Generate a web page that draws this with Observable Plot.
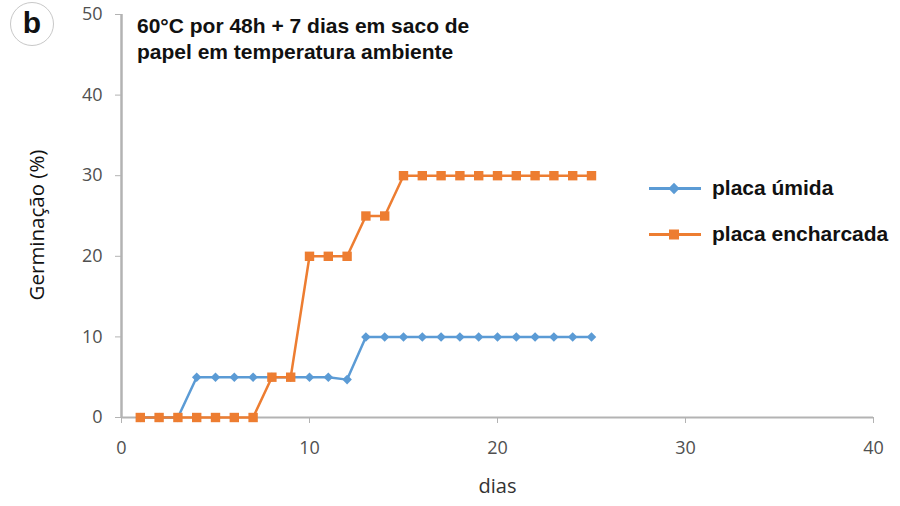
<!DOCTYPE html>
<html>
<head>
<meta charset="utf-8">
<script src="https://cdn.jsdelivr.net/npm/d3@7"></script>
<script src="https://cdn.jsdelivr.net/npm/@observablehq/plot@0.6"></script>
<style>
  body { margin: 0; background: #fff; }
  #wrap { position: relative; width: 900px; height: 506px; overflow: hidden; }
  .ov { position: absolute; font-family: "Liberation Sans", Arial, sans-serif; color: #111; }
  #badge { left: 10px; top: 2px; width: 42px; height: 42px; border: 1.5px solid #c8c8c8; border-radius: 50%;
           font-weight: bold; font-size: 30px; line-height: 40px; text-align: center; }
  #title { left: 137px; top: 13px; font-weight: bold; font-size: 21px; line-height: 26px; }
  #legend { left: 648px; top: 165px; font-weight: bold; font-size: 21px; }
  #legend .row { display: flex; align-items: center; height: 46px; }
  #legend svg { margin-right: 10px; }
</style>
</head>
<body>
<div id="wrap">
  <div id="chart"></div>
  <div class="ov" id="badge">b</div>
  <div class="ov" id="title"></div>
  <div class="ov" id="legend"></div>
</div>
<script>
// Germination (%) per day for the two dish conditions
const dias = [1, 2, 3, 4, 5, 6, 7, 8, 9, 10, 11, 12, 13, 14, 15, 16, 17, 18, 19, 20, 21, 22, 23, 24, 25];
const placaUmida = [0, 0, 0, 5, 5, 5, 5, 5, 5, 5, 5, 4.7, 10, 10, 10, 10, 10, 10, 10, 10, 10, 10, 10, 10, 10];
const placaEncharcada = [0, 0, 0, 0, 0, 0, 0, 5, 5, 20, 20, 20, 25, 25, 30, 30, 30, 30, 30, 30, 30, 30, 30, 30, 30];
const seriesNames = ["placa úmida", "placa encharcada"];
const seriesColors = ["#5B9BD5", "#ED7D31"];
const xTicks = [0, 10, 20, 30, 40];
const yTicks = [0, 10, 20, 30, 40, 50];
const titleLines = ["60°C por 48h + 7 dias em saco de", "papel em temperatura ambiente"];
const xLabel = "dias";
const yLabel = "Germinação (%)";

const umida = dias.map((d, i) => ({dia: d, g: placaUmida[i]}));
const encharcada = dias.map((d, i) => ({dia: d, g: placaEncharcada[i]}));

const axisGray = "#b3b3b3";
const tickText = "#505050";

const chart = Plot.plot({
  width: 900,
  height: 506,
  marginLeft: 121,
  marginRight: 27,
  marginTop: 14,
  marginBottom: 89,
  x: {domain: [0, 40]},
  y: {domain: [0, 50]},
  style: {fontFamily: "'Open Sans', sans-serif", fontSize: "18px", background: "transparent"},
  marks: [
    Plot.axisX({ticks: xTicks, tickSize: 6, tickPadding: 18, stroke: axisGray, fill: tickText, label: null}),
    Plot.axisY({ticks: yTicks, tickSize: 6, tickPadding: 13, stroke: axisGray, fill: tickText, label: null}),
    Plot.ruleY([0], {stroke: axisGray, strokeWidth: 2}),
    Plot.ruleX([0], {stroke: axisGray, strokeWidth: 2.5}),
    Plot.text([xLabel], {frameAnchor: "bottom", text: d => d, dy: 75, fill: "#333", fontSize: 20}),
    Plot.text([yLabel], {frameAnchor: "left", textAnchor: "middle", text: d => d, rotate: -90,
                         dx: -84, dy: 9, fill: "#111", fontSize: 20.5}),
    Plot.line(umida, {x: "dia", y: "g", stroke: seriesColors[0], strokeWidth: 2.5}),
    Plot.dot(umida, {x: "dia", y: "g", symbol: "diamond2", r: 4.3, fill: seriesColors[0], stroke: null}),
    Plot.line(encharcada, {x: "dia", y: "g", stroke: seriesColors[1], strokeWidth: 2.5}),
    Plot.dot(encharcada, {x: "dia", y: "g", symbol: "square", r: 5.3, fill: seriesColors[1], stroke: null})
  ]
});
document.getElementById("chart").append(chart);

document.getElementById("title").innerHTML = titleLines.join("<br>");

// Legend rows: line with marker, then series name
const legend = document.getElementById("legend");
seriesNames.forEach((name, i) => {
  const marker = i === 0
    ? `<rect x="22" y="5.5" width="8" height="8" transform="rotate(45 26 9.5)" fill="${seriesColors[i]}"/>`
    : `<rect x="21" y="4.5" width="10" height="10" fill="${seriesColors[i]}"/>`;
  legend.insertAdjacentHTML("beforeend",
    `<div class="row"><svg width="54" height="19"><line x1="1" x2="53" y1="9.5" y2="9.5" stroke="${seriesColors[i]}" stroke-width="3"/>${marker}</svg><span>${name}</span></div>`);
});
</script>
</body>
</html>
